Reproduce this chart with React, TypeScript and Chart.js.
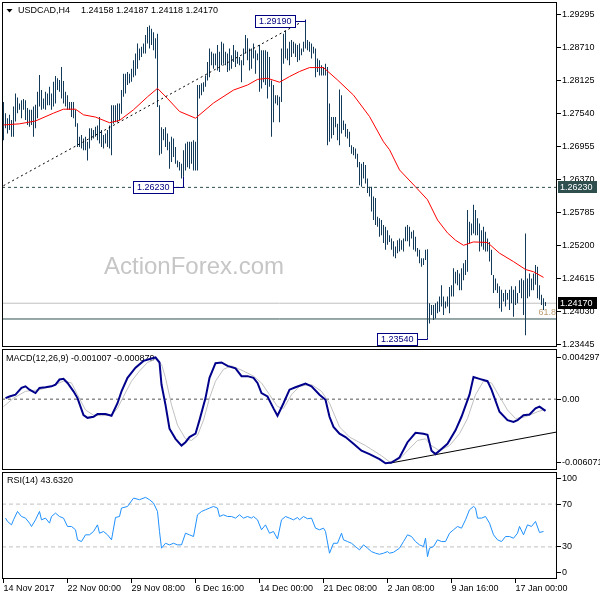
import React, { useEffect, useRef } from "react";
import { Chart, registerables } from "chart.js";

Chart.register(...registerables);

// ---------------- data ----------------
const SYMBOL = "USDCAD,H4";
const LAST_OHLC = ["1.24158", "1.24187", "1.24118", "1.24170"];
const WATERMARK = "ActionForex.com";

const HIGHS = [
  1.2775, 1.2755, 1.2746, 1.2752, 1.2743, 1.2767, 1.279, 1.2783, 1.2772, 1.2778,
  1.278, 1.2778, 1.2764, 1.2761, 1.2761, 1.2767, 1.277, 1.2793, 1.2823, 1.2796,
  1.2781, 1.2793, 1.279, 1.2802, 1.279, 1.2811, 1.2821, 1.2817, 1.2814, 1.2837,
  1.2812, 1.2793, 1.2787, 1.2775, 1.2775, 1.2775, 1.2761, 1.2737, 1.2713, 1.2716,
  1.271, 1.2713, 1.2704, 1.2728, 1.2728, 1.2725, 1.2731, 1.2733, 1.2748, 1.2725,
  1.2716, 1.2719, 1.2725, 1.2733, 1.2769, 1.2769, 1.2769, 1.2772, 1.2772, 1.2796,
  1.2825, 1.2825, 1.2828, 1.2825, 1.2834, 1.2849, 1.2861, 1.2879, 1.287, 1.2873,
  1.2879, 1.2894, 1.2908, 1.2911, 1.2905, 1.2899, 1.2888, 1.2896, 1.2769, 1.273,
  1.2727, 1.273, 1.2719, 1.2704, 1.2713, 1.271, 1.2695, 1.2671, 1.2668, 1.2665,
  1.2689, 1.2701, 1.2704, 1.2704, 1.2704, 1.2707, 1.2704, 1.2805, 1.2805, 1.2808,
  1.281, 1.2822, 1.2846, 1.287, 1.2864, 1.2861, 1.2861, 1.2876, 1.2864, 1.2882,
  1.2879, 1.2864, 1.2861, 1.287, 1.2858, 1.2876, 1.2867, 1.2864, 1.2855, 1.2849,
  1.287, 1.2894, 1.2888, 1.287, 1.287, 1.2879, 1.2867, 1.2861, 1.2876, 1.2867,
  1.2867, 1.2867, 1.2864, 1.2855, 1.2813, 1.2805, 1.2787, 1.2787, 1.2784, 1.287,
  1.2896, 1.2902, 1.287, 1.2882, 1.2885, 1.2882, 1.2879, 1.2876, 1.2879, 1.287,
  1.2882, 1.2921, 1.2885, 1.2882, 1.2879, 1.2873, 1.287, 1.2852, 1.2849, 1.284,
  1.2837, 1.2843, 1.2837, 1.2772, 1.2748, 1.2748, 1.2748, 1.2736, 1.2797, 1.2787,
  1.2742, 1.2736, 1.2727, 1.2722, 1.2698, 1.2695, 1.2692, 1.2683, 1.2668, 1.2665,
  1.2668, 1.2663, 1.2639, 1.2624, 1.2624, 1.2607, 1.2604, 1.2571, 1.2568, 1.2565,
  1.2556, 1.2553, 1.2547, 1.2538, 1.2532, 1.2527, 1.2518, 1.2529, 1.2532, 1.2529,
  1.2532, 1.2553, 1.2556, 1.2553, 1.2544, 1.2547, 1.2535, 1.2515, 1.2512, 1.2497,
  1.2497, 1.2512, 1.2513, 1.2417, 1.2414, 1.2414, 1.2417, 1.242, 1.2429, 1.2449,
  1.2429, 1.242, 1.2429, 1.2446, 1.2449, 1.2479, 1.2473, 1.2476, 1.247, 1.2479,
  1.2488, 1.2494, 1.2583, 1.2562, 1.2559, 1.2592, 1.2583, 1.2568, 1.2559, 1.2547,
  1.2553, 1.2544, 1.2532, 1.2526, 1.2512, 1.2467, 1.2461, 1.2452, 1.2447, 1.2441,
  1.2435, 1.2441, 1.2435, 1.2441, 1.2447, 1.2441, 1.2447, 1.2435, 1.2458, 1.2461,
  1.2458, 1.2541, 1.2461, 1.247, 1.2461, 1.247, 1.2485, 1.2482, 1.2449, 1.2432,
  1.2426, 1.2419,
];

const LOWS = [
  1.2707, 1.2728, 1.2719, 1.2725, 1.2713, 1.2713, 1.274, 1.2755, 1.2761, 1.2746,
  1.2761, 1.2743, 1.2734, 1.2731, 1.2734, 1.2713, 1.2728, 1.2746, 1.2767, 1.2761,
  1.2763, 1.2761, 1.2769, 1.2769, 1.2761, 1.2767, 1.2772, 1.2796, 1.2793, 1.2781,
  1.2772, 1.2767, 1.2761, 1.2761, 1.2748, 1.2746, 1.2731, 1.2695, 1.2695, 1.2692,
  1.2689, 1.2689, 1.2671, 1.2692, 1.2707, 1.271, 1.2713, 1.2707, 1.2701, 1.2695,
  1.2692, 1.2701, 1.2695, 1.2692, 1.268, 1.2736, 1.2739, 1.2739, 1.2742, 1.2754,
  1.2784, 1.279, 1.2805, 1.2808, 1.2811, 1.2819, 1.2822, 1.2834, 1.2849, 1.2855,
  1.2861, 1.2861, 1.2879, 1.287, 1.2876, 1.2867, 1.2852, 1.2766, 1.268, 1.2683,
  1.2707, 1.2695, 1.2689, 1.2656, 1.2668, 1.2677, 1.2665, 1.2659, 1.2653, 1.2639,
  1.2642, 1.2653, 1.2659, 1.2656, 1.2665, 1.2653, 1.2653, 1.2653, 1.2781, 1.2787,
  1.2793, 1.2802, 1.2813, 1.2819, 1.284, 1.2834, 1.284, 1.2831, 1.2828, 1.284,
  1.2843, 1.284, 1.2828, 1.2831, 1.2834, 1.2846, 1.2837, 1.2843, 1.284, 1.281,
  1.284, 1.2861, 1.2849, 1.2831, 1.2834, 1.2852, 1.2825, 1.2849, 1.2793, 1.2799,
  1.281, 1.2805, 1.2781, 1.2802, 1.2713, 1.2739, 1.2772, 1.2769, 1.2739, 1.2775,
  1.2843, 1.2852, 1.2849, 1.284, 1.2855, 1.2861, 1.2855, 1.2846, 1.2849, 1.2858,
  1.2864, 1.287, 1.2867, 1.2864, 1.2852, 1.2861, 1.2819, 1.2828, 1.2822, 1.2822,
  1.2822, 1.2822, 1.2698, 1.2704, 1.271, 1.2716, 1.273, 1.2707, 1.2698, 1.2719,
  1.2725, 1.2713, 1.271, 1.2695, 1.2683, 1.268, 1.2674, 1.2659, 1.2627, 1.2624,
  1.2639, 1.263, 1.2613, 1.2607, 1.258, 1.2565, 1.2556, 1.2553, 1.2535, 1.2538,
  1.2524, 1.2512, 1.2521, 1.2526, 1.2512, 1.25, 1.2497, 1.2506, 1.2509, 1.2512,
  1.2509, 1.2527, 1.2527, 1.2518, 1.2532, 1.2512, 1.2509, 1.25, 1.2488, 1.2482,
  1.2485, 1.2494, 1.2356, 1.2381, 1.2396, 1.2387, 1.239, 1.2399, 1.2402, 1.2411,
  1.2396, 1.2408, 1.2411, 1.2399, 1.2429, 1.2429, 1.2452, 1.2449, 1.244, 1.244,
  1.2458, 1.2467, 1.2473, 1.2523, 1.2538, 1.2541, 1.2538, 1.2538, 1.2509, 1.2518,
  1.2512, 1.2509, 1.2509, 1.2491, 1.2467, 1.2435, 1.244, 1.2435, 1.2408, 1.2402,
  1.242, 1.2411, 1.2423, 1.2405, 1.2417, 1.2393, 1.2414, 1.2417, 1.2435, 1.2426,
  1.2396, 1.236, 1.2426, 1.2429, 1.244, 1.244, 1.245, 1.2426, 1.2423, 1.2414,
  1.2405, 1.2412,
];

// moving average: [bar index, price]
const MA_POINTS = [
  [0, 1.2734], [8, 1.2736], [16, 1.2741], [25, 1.2755], [30, 1.2762], [36, 1.2762],
  [40, 1.2752], [46, 1.2748], [53, 1.2738], [58, 1.2742], [65, 1.2761], [72, 1.2784],
  [77, 1.2799], [82, 1.2781], [88, 1.2758], [96, 1.2746], [105, 1.2773], [115, 1.2796],
  [122, 1.2805], [127, 1.2815], [132, 1.2817], [138, 1.281], [143, 1.282], [148, 1.2829],
  [153, 1.2836], [160, 1.2836], [167, 1.2814], [175, 1.2787], [183, 1.2749], [190, 1.2704],
  [193, 1.269], [198, 1.2654], [206, 1.2624], [212, 1.2601], [217, 1.2565], [222, 1.2542],
  [226, 1.2529], [230, 1.252], [235, 1.2526], [242, 1.2525], [248, 1.2506], [255, 1.2491],
  [261, 1.2477], [265, 1.2473], [270, 1.2463],
];

const MACD_MAIN = [
  [1, 0.00009], [3, 0.00023], [6, 0.00038], [9, 0.00096], [11, 0.0011], [13, 0.00081],
  [16, 0.00052], [18, 0.00096], [21, 0.00102], [24, 0.0011], [26, 0.00125], [28, 0.00168],
  [30, 0.00174], [32, 0.00139], [35, 0.00067], [37, 0.00009], [40, -0.00137], [42, -0.0016],
  [45, -0.00151], [47, -0.00128], [51, -0.00128], [54, -0.00142], [57, -0.00035], [59, 0.00067],
  [62, 0.00183], [66, 0.0027], [70, 0.00328], [74, 0.00348], [76, 0.00357], [78, 0.00314],
  [79, 0.00125], [81, -0.00049], [83, -0.00253], [86, -0.0034], [89, -0.00398], [91, -0.00369],
  [93, -0.00325], [96, -0.00296], [98, -0.0018], [101, 0.00009], [103, 0.00183], [106, 0.00308],
  [109, 0.00314], [112, 0.00285], [116, 0.00264], [119, 0.00197], [122, 0.00197], [125, 0.00183],
  [127, 0.00139], [129, 0.00052], [132, 0.00023], [135, -0.00079], [137, -0.00142], [140, -0.00035],
  [143, 0.00081], [146, 0.00102], [151, 0.00134], [154, 0.0011], [158, 0.00038], [161, -0.00006],
  [163, -0.00151], [165, -0.00238], [168, -0.00296], [171, -0.00325], [175, -0.00383], [179, -0.00442],
  [183, -0.00471], [188, -0.00514], [191, -0.00549], [194, -0.00543], [198, -0.005], [202, -0.00369],
  [206, -0.00288], [210, -0.00296], [212, -0.00305], [214, -0.00442], [216, -0.00471], [219, -0.00427],
  [222, -0.00383], [226, -0.00267], [229, -0.00151], [233, 0.00038], [235, 0.00189], [238, 0.00174],
  [242, 0.00154], [244, 0.00081], [248, -0.00108], [252, -0.0018], [255, -0.00195], [257, -0.0018],
  [260, -0.00137], [263, -0.00131], [266, -0.00079], [268, -0.00064], [271, -0.00101],
];

const MACD_SIGNAL = [
  [0, -0.00064], [5, 0.00009], [11, 0.00067], [18, 0.00081], [24, 0.0011], [30, 0.00154],
  [34, 0.00139], [37, 0.00038], [41, -0.00093], [45, -0.00137], [49, -0.00142], [54, -0.00137],
  [57, -0.00079], [60, 0.00023], [64, 0.00154], [68, 0.00241], [72, 0.00314], [76, 0.00343],
  [79, 0.00299], [81, 0.00183], [84, -0.00049], [87, -0.00223], [91, -0.0034], [94, -0.00354],
  [97, -0.00311], [100, -0.0018], [103, 0.00009], [106, 0.00154], [110, 0.00256], [114, 0.00285],
  [120, 0.00241], [125, 0.00197], [129, 0.00139], [133, 0.00038], [137, -0.00064], [140, -0.00079],
  [144, 0.00038], [148, 0.0011], [154, 0.00125], [159, 0.00067], [163, -0.00035], [168, -0.00238],
  [173, -0.00325], [181, -0.00398], [189, -0.00485], [193, -0.00537], [198, -0.00514], [202, -0.00442],
  [207, -0.00354], [211, -0.0034], [214, -0.00398], [218, -0.00442], [223, -0.00398], [228, -0.00296],
  [232, -0.00166], [236, 0.00038], [240, 0.00154], [244, 0.00139], [248, 0.00023], [252, -0.00093],
  [256, -0.00166], [261, -0.00151], [267, -0.00108], [271, -0.00088],
];

const RSI_POINTS = [
  [1, 56.9], [2, 53.8], [4, 50.6], [5, 55.3], [7, 63.1], [9, 58.4], [11, 56.9], [13, 52.2],
  [14, 49.1], [16, 55.3], [18, 63.1], [19, 55.3], [21, 56.9], [23, 52.2], [24, 58.4], [26, 61.6],
  [28, 58.4], [30, 56.9], [32, 49.1], [34, 49.1], [36, 46.0], [37, 36.6], [39, 35.0], [41, 41.3],
  [43, 41.3], [45, 44.4], [47, 50.6], [48, 42.8], [50, 44.4], [52, 41.3], [54, 36.6], [56, 57.5],
  [58, 58.4], [59, 66.3], [62, 67.8], [65, 75.6], [68, 74.1], [71, 76.3], [73, 74.1], [75, 71.0],
  [77, 63.1], [78, 44.4], [79, 28.8], [81, 33.4], [83, 31.9], [85, 33.4], [87, 31.9], [89, 31.9],
  [91, 42.8], [93, 41.3], [95, 39.7], [97, 60.0], [99, 63.1], [101, 64.7], [103, 66.3], [105, 67.8],
  [107, 66.3], [108, 58.4], [110, 60.0], [112, 58.4], [114, 58.4], [116, 56.9], [118, 60.0], [120, 56.9],
  [122, 58.4], [124, 56.9], [125, 58.4], [127, 55.3], [129, 46.0], [131, 50.6], [133, 42.8], [135, 44.4],
  [137, 37.5], [139, 55.3], [141, 58.4], [143, 56.9], [145, 55.3], [147, 57.5], [148, 55.3], [150, 58.4],
  [152, 56.3], [154, 56.9], [156, 47.5], [158, 46.0], [160, 47.5], [161, 44.4], [163, 24.1], [165, 33.4],
  [167, 33.4], [169, 42.8], [170, 36.6], [172, 35.0], [174, 33.4], [176, 30.3], [178, 27.2], [180, 31.9],
  [182, 28.8], [184, 25.6], [186, 24.1], [188, 23.1], [190, 24.1], [192, 25.6], [193, 24.1], [195, 25.0],
  [198, 28.8], [200, 35.0], [202, 41.3], [204, 39.7], [206, 35.0], [208, 31.9], [210, 30.3], [211, 38.1],
  [212, 20.9], [213, 28.8], [215, 30.3], [217, 36.6], [219, 35.0], [221, 35.0], [223, 42.8], [225, 46.0],
  [227, 49.1], [229, 47.5], [231, 55.3], [233, 64.7], [235, 67.8], [236, 66.3], [237, 56.9], [239, 56.9],
  [241, 58.4], [243, 52.2], [245, 41.3], [247, 36.6], [249, 35.0], [251, 39.7], [253, 39.7], [255, 38.1],
  [257, 42.8], [258, 49.1], [260, 41.3], [262, 50.6], [264, 49.1], [266, 53.8], [268, 43.5], [270, 44.4],
];

const PRICE_TICKS = [1.23445, 1.2403, 1.24615, 1.252, 1.25785, 1.2637, 1.26955, 1.2754, 1.28125, 1.2871, 1.29295];
const MACD_TICK_TEXT = ["-0.006071", "0.00", "0.004297"];
const RSI_TICK_TEXT = ["0", "30", "70", "100"];
const TIME_TICK_BARS = [0, 32, 64, 96, 128, 160, 192, 224, 256];
const TIME_LABELS = ["14 Nov 2017", "22 Nov 00:00", "29 Nov 08:00", "6 Dec 16:00", "14 Dec 00:00", "21 Dec 08:00", "2 Jan 08:00", "9 Jan 16:00", "17 Jan 00:00"];

const SUPPORT_LEVEL = 1.2623;
const CURRENT_PRICE = 1.2417;
const FIB_LEVEL = 1.2389;
const FIB_TEXT = "61.8";
const TREND_LINE = [[0, 1.2626], [148, 1.2915]];
const MACD_TREND = [[193, -0.00549], [278.4, -0.00276]];
const PRICE_LABELS = [
  { bar: 151, price: 1.2919, side: "high" },
  { bar: 90, price: 1.2623, side: "low" },
  { bar: 212, price: 1.2354, side: "low" },
];
const MACD_TEXT = "MACD(12,26,9) -0.001007 -0.000879";
const RSI_TEXT = "RSI(14) 43.6320";

// ---------------- helpers ----------------
function pickFonts() {
  const ctx = document.createElement("canvas").getContext("2d");
  const probe = "USDCAD 1.29295 ActionForex";
  let narrow = false;
  if (ctx) {
    ctx.font = "20px monospace";
    const base = ctx.measureText(probe).width;
    ctx.font = '20px "Liberation Sans Narrow", monospace';
    narrow = Math.abs(ctx.measureText(probe).width - base) > 1;
  }
  return narrow
    ? { family: '"Liberation Sans Narrow", sans-serif', size: 10.5, wm: 27 }
    : { family: '"Liberation Sans", Arial, sans-serif', size: 9, wm: 24 };
}

const framePlugin = {
  id: "frame",
  afterDraw(chart: any) {
    const { ctx, chartArea: a } = chart;
    ctx.save();
    ctx.strokeStyle = "#000";
    ctx.lineWidth = 1;
    ctx.strokeRect(a.left + 0.5, a.top + 0.5, a.right - a.left - 1, a.bottom - a.top - 1);
    ctx.restore();
  },
};

const pts = (arr: number[][]) => arr.map(([x, y]) => ({ x, y }));

export default function App() {
  const mainRef = useRef<HTMLCanvasElement>(null);
  const macdRef = useRef<HTMLCanvasElement>(null);
  const rsiRef = useRef<HTMLCanvasElement>(null);

  useEffect(() => {
    const F = pickFonts();
    const font = { family: F.family, size: F.size };
    const fontStr = `${F.size}px ${F.family}`;
    const X_MIN = -0.75;
    const X_MAX = 276.75;
    const PRICE_MIN = 1.23392;
    const PRICE_MAX = 1.29526;

    const hiddenX = { type: "linear", min: X_MIN, max: X_MAX, display: false, offset: false };
    const rightAxis = (min: number, max: number, vals: number[], label: (v: number, i: number) => string) => ({
      type: "linear",
      position: "right",
      min,
      max,
      offset: false,
      grid: { display: true, drawOnChartArea: false, drawTicks: true, tickLength: 4, color: "#000" },
      border: { display: false },
      ticks: { autoSkip: false, padding: 1, color: "#000", font, callback: (v: number, i: number) => label(v, i) },
      afterBuildTicks: (s: any) => {
        s.ticks = vals.map((v) => ({ value: v }));
      },
      afterFit: (s: any) => {
        s.width = 43;
        s.paddingTop = 0;
        s.paddingBottom = 0;
      },
    });
    const base = {
      animation: false,
      responsive: false,
      devicePixelRatio: 1,
      events: [],
      plugins: { legend: { display: false }, tooltip: { enabled: false } },
    };
    const flat = (y: number) => [{ x: X_MIN, y }, { x: X_MAX, y }];

    const mainDecor = {
      id: "mainDecor",
      beforeDatasetsDraw(chart: any) {
        const ctx = chart.ctx;
        ctx.save();
        ctx.textBaseline = "middle";
        ctx.font = `${F.wm}px ${F.family}`;
        ctx.fillStyle = "#c6c6c6";
        ctx.fillText(WATERMARK, 104, 267);
        ctx.fillStyle = "#000";
        ctx.beginPath();
        ctx.moveTo(6.5, 9);
        ctx.lineTo(12.5, 9);
        ctx.lineTo(9.5, 12.5);
        ctx.closePath();
        ctx.fill();
        ctx.font = fontStr;
        ctx.fillText(SYMBOL, 18, 10.5);
        ctx.fillText(LAST_OHLC.join(" "), 81, 10.5);
        ctx.restore();
      },
      afterDraw(chart: any) {
        const ctx = chart.ctx;
        const xs = chart.scales.x;
        const ys = chart.scales.y;
        const a = chart.chartArea;
        ctx.save();
        ctx.font = fontStr;
        ctx.textBaseline = "middle";
        // fib level text
        ctx.fillStyle = "#bfa071";
        ctx.textAlign = "right";
        ctx.fillText(FIB_TEXT, a.right - 1, ys.getPixelForValue(FIB_LEVEL) - 6);
        ctx.textAlign = "left";
        // price labels with connectors
        PRICE_LABELS.forEach((l) => {
          const bx = Math.floor(xs.getPixelForValue(l.bar)) + 0.5;
          const py = Math.round(ys.getPixelForValue(l.price)) + 0.5;
          const end = ys.getPixelForValue(l.side === "high" ? HIGHS[l.bar] : LOWS[l.bar]);
          const txt = l.price.toFixed(5);
          const w = Math.round(ctx.measureText(txt).width) + 7;
          const right = bx - 10;
          ctx.strokeStyle = "#000080";
          ctx.lineWidth = 1;
          ctx.beginPath();
          ctx.moveTo(right, py);
          ctx.lineTo(bx, py);
          ctx.lineTo(bx, end);
          ctx.stroke();
          ctx.fillStyle = "#fff";
          ctx.fillRect(right - w, py - 6, w, 12);
          ctx.strokeRect(right - w, py - 6, w, 12);
          ctx.fillStyle = "#000080";
          ctx.fillText(txt, right - w + 3.5, py + 0.5);
        });
        // right axis highlight boxes
        [
          [SUPPORT_LEVEL, "#2f4f4f"],
          [CURRENT_PRICE, "#000000"],
        ].forEach(([p, c]: any) => {
          const y = Math.round(ys.getPixelForValue(p));
          ctx.fillStyle = c;
          ctx.fillRect(a.right + 1, y - 6, 39, 12);
          ctx.fillStyle = "#fff";
          ctx.fillText(p.toFixed(5), a.right + 3, y + 0.5);
        });
        ctx.restore();
      },
    };

    const textDecor = (id: string, text: string, x: number, y: number) => ({
      id,
      beforeDatasetsDraw(chart: any) {
        const ctx = chart.ctx;
        ctx.save();
        ctx.font = fontStr;
        ctx.fillStyle = "#000";
        ctx.textBaseline = "middle";
        ctx.fillText(text, x, y - chart.canvas.offsetTop);
        ctx.restore();
      },
    });

    const line = (data: any, color: string, width: number, order: number, dash: number[] = []) => ({
      type: "line",
      data,
      borderColor: color,
      borderWidth: width,
      borderDash: dash,
      pointRadius: 0,
      fill: false,
      tension: 0,
      order,
    });

    const main = new Chart(mainRef.current as any, {
      type: "bar",
      data: {
        datasets: [
          line(pts(TREND_LINE), "#000", 1, 1, [2, 3]),
          line(flat(SUPPORT_LEVEL), "#2f4f4f", 1, 2, [3, 3]),
          line(flat(FIB_LEVEL), "#2f4f4f", 1, 2),
          line(pts(MA_POINTS), "#ff0000", 1, 3),
          line(flat(CURRENT_PRICE), "#c0c0c0", 1, 6),
          {
            type: "bar",
            data: HIGHS.map((h, i) => ({ x: i, y: [LOWS[i], h] })),
            backgroundColor: "#133a58",
            barThickness: 1,
            grouped: false,
            inflateAmount: 0,
            order: 5,
          },
        ],
      } as any,
      options: {
        ...base,
        layout: { padding: { left: 2, top: 2, right: 0, bottom: 2 } },
        scales: {
          x: hiddenX,
          y: rightAxis(PRICE_MIN, PRICE_MAX, PRICE_TICKS, (v) => Number(v).toFixed(5)),
        },
      } as any,
      plugins: [framePlugin, mainDecor] as any,
    });

    const macd = new Chart(macdRef.current as any, {
      type: "line",
      data: {
        datasets: [
          line(pts(MACD_MAIN), "#00008b", 2, 1),
          line(pts(MACD_TREND), "#000", 1, 1),
          line(pts(MACD_SIGNAL), "#c0c0c0", 1, 2),
          line(flat(0), "#555", 1, 3, [3, 3]),
        ],
      } as any,
      options: {
        ...base,
        layout: { padding: { left: 2, top: 1, right: 0, bottom: 2 } },
        scales: {
          x: hiddenX,
          y: rightAxis(-0.006071, 0.004297, [-0.005445, 0, 0.003586], (v, i) => MACD_TICK_TEXT[i]),
        },
      } as any,
      plugins: [framePlugin, textDecor("macdText", MACD_TEXT, 6, 359)] as any,
    });

    const rsi = new Chart(rsiRef.current as any, {
      type: "line",
      data: {
        datasets: [
          line(pts(RSI_POINTS), "#1e90ff", 1, 1),
          line(flat(70), "#c0c0c0", 1, 2, [4, 3]),
          line(flat(30), "#c0c0c0", 1, 2, [4, 3]),
        ],
      } as any,
      options: {
        ...base,
        layout: { padding: { left: 2, top: 1, right: 0, bottom: 0 } },
        scales: {
          x: {
            type: "linear",
            min: X_MIN,
            max: X_MAX,
            offset: false,
            position: "bottom",
            grid: { display: true, drawOnChartArea: false, drawTicks: true, tickLength: 4, color: "#000" },
            border: { display: false },
            ticks: {
              autoSkip: false,
              maxRotation: 0,
              align: "start",
              padding: 0,
              color: "#000",
              font,
              callback: (v: number, i: number) => TIME_LABELS[i],
            },
            afterBuildTicks: (s: any) => {
              s.ticks = TIME_TICK_BARS.map((v) => ({ value: v }));
            },
            afterFit: (s: any) => {
              s.height = 21;
              s.paddingLeft = 0;
              s.paddingRight = 0;
            },
          },
          y: rightAxis(0, 100, [6.3, 30, 70, 93.5], (v, i) => RSI_TICK_TEXT[i]),
        },
      } as any,
      plugins: [framePlugin, textDecor("rsiText", RSI_TEXT, 7, 481)] as any,
    });

    return () => {
      main.destroy();
      macd.destroy();
      rsi.destroy();
    };
  }, []);

  const cv = (top: number): React.CSSProperties => ({ position: "absolute", left: 0, top, display: "block" });
  return (
    <div style={{ position: "fixed", left: 0, top: 0, width: 600, height: 600, background: "#fff", overflow: "hidden" }}>
      <canvas ref={mainRef} width={600} height={349} style={cv(0)} />
      <canvas ref={macdRef} width={600} height={124} style={cv(348)} />
      <canvas ref={rsiRef} width={600} height={129} style={cv(471)} />
    </div>
  );
}
